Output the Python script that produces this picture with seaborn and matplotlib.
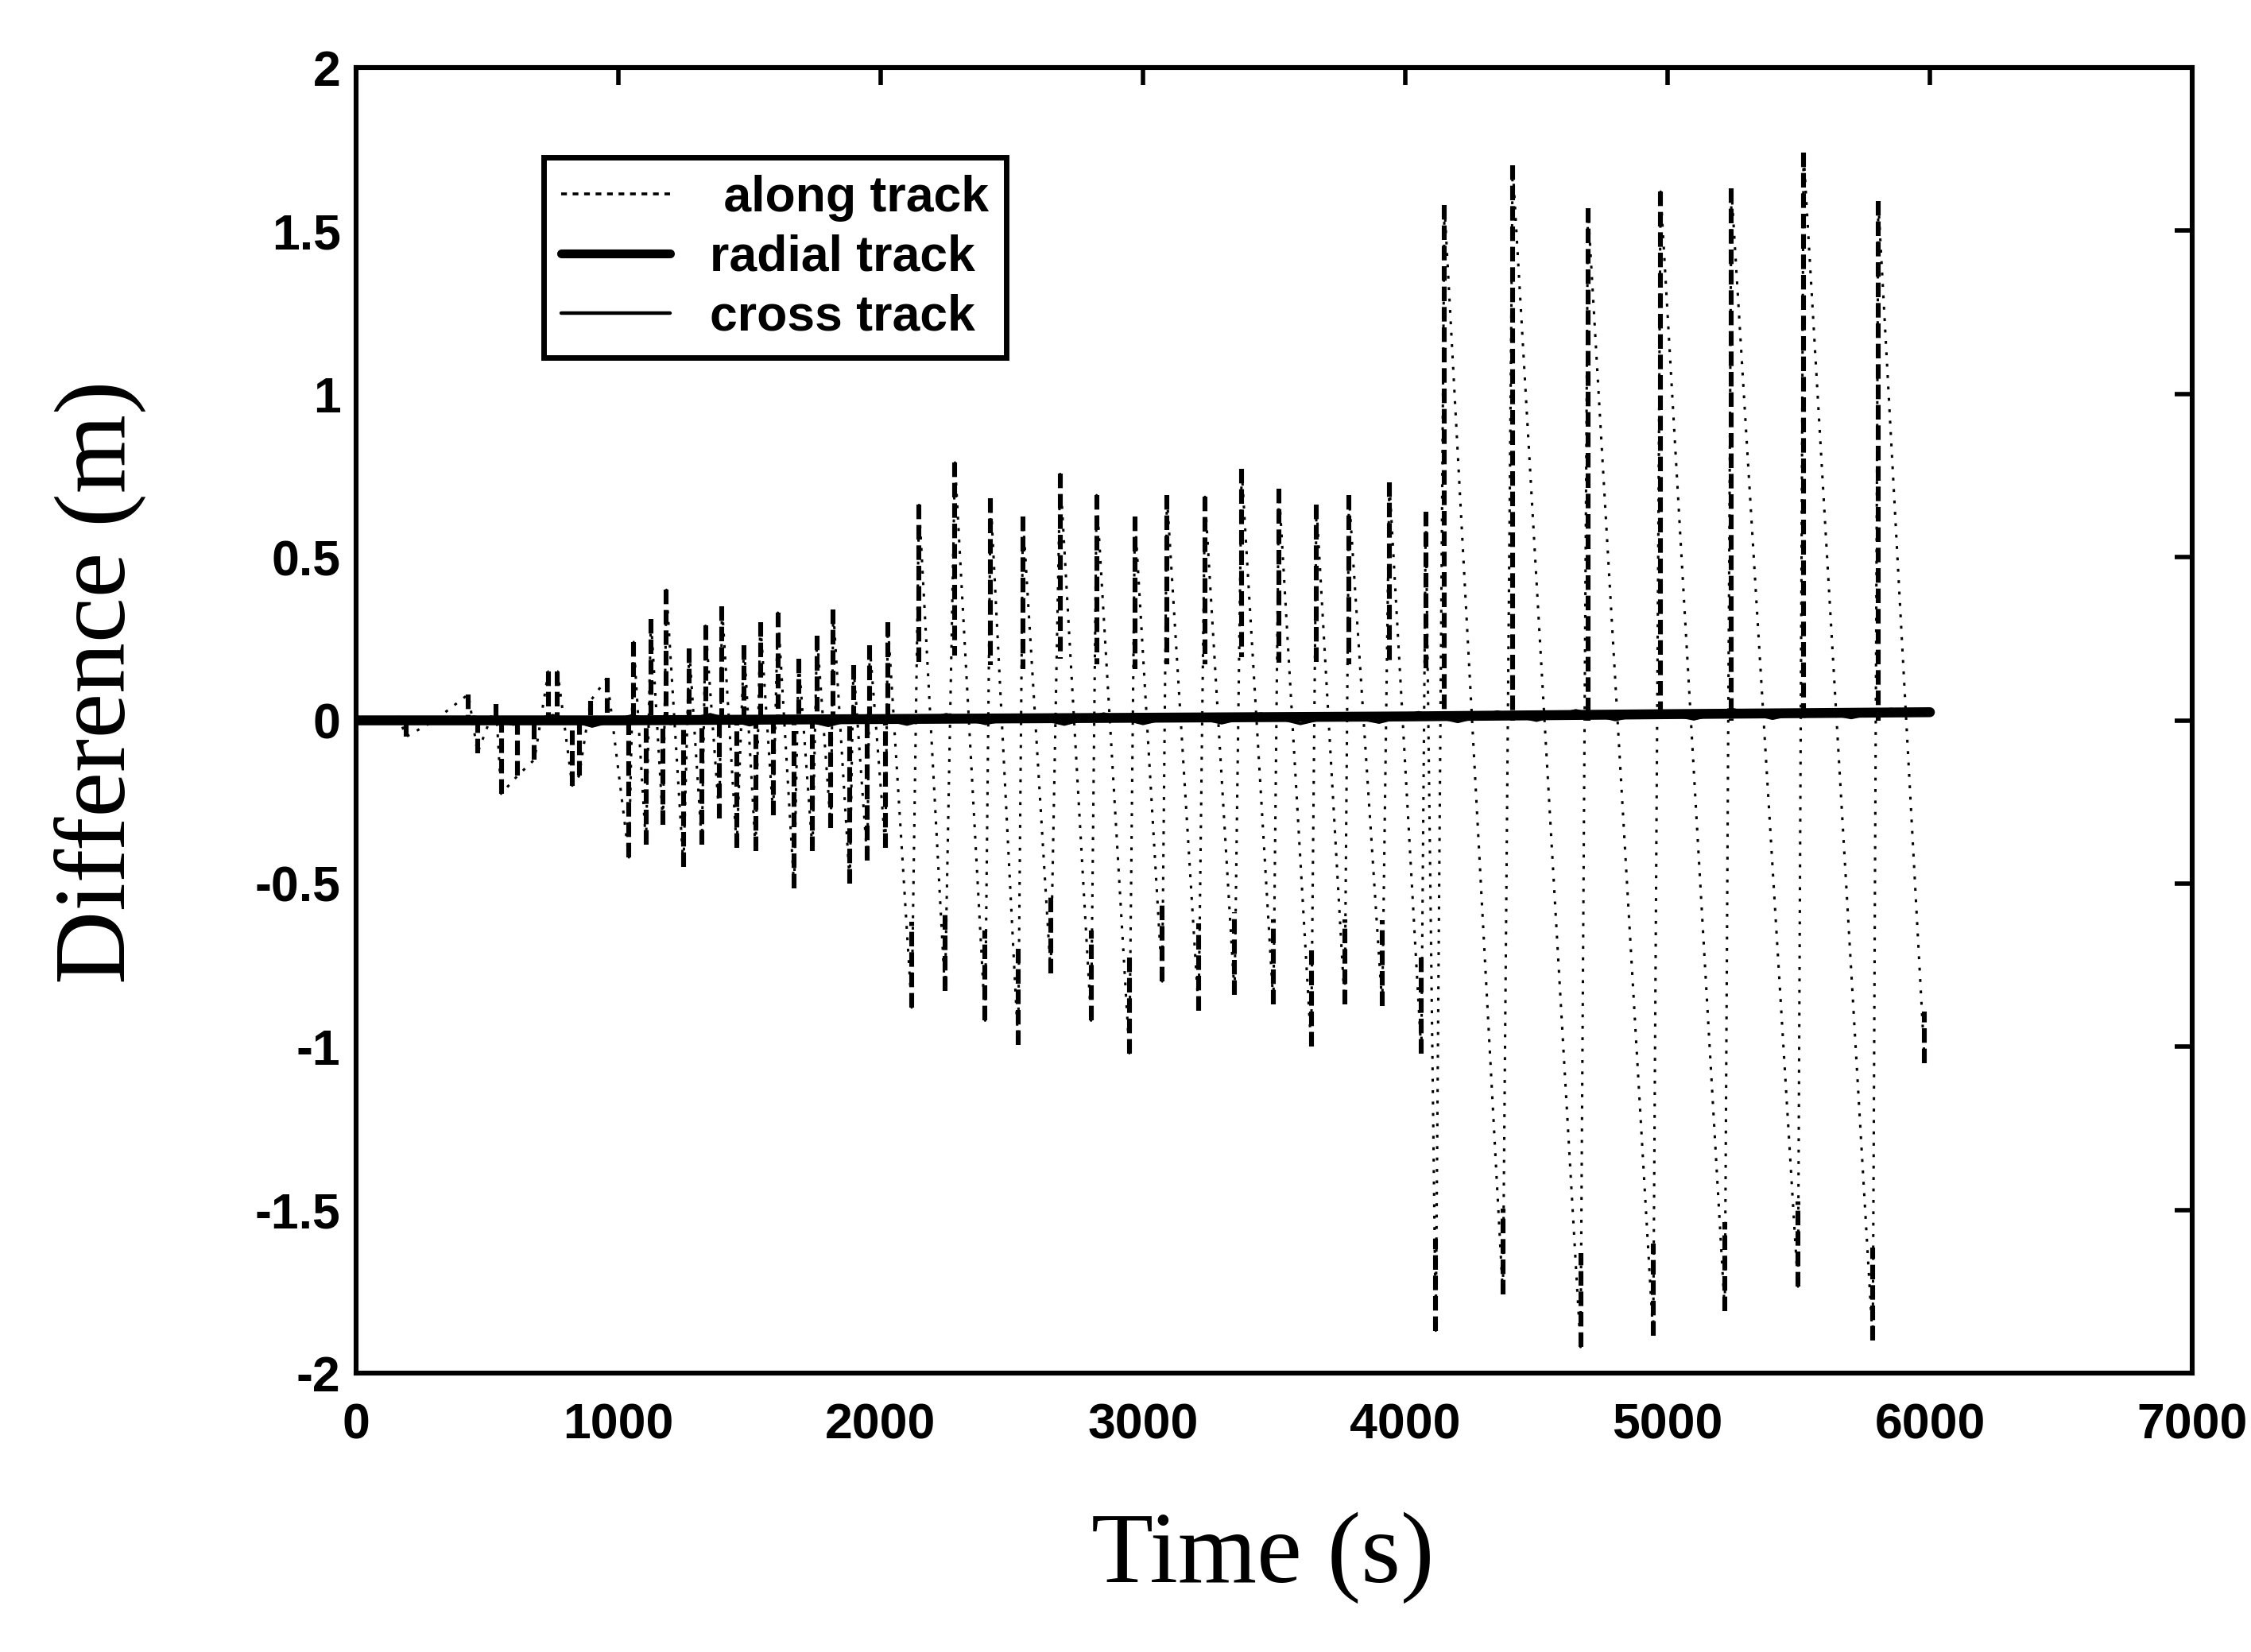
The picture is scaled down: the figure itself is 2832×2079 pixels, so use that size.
import numpy as np
import pandas as pd
import matplotlib
matplotlib.use("Agg")
import matplotlib.pyplot as plt
import seaborn as sns
from matplotlib.lines import Line2D

# Along-track difference: successive turning points of the signal (s, m)
along_t = [0, 120, 157, 191, 300, 428, 463, 533, 553, 615, 680, 733, 768, 824, 850,
           894, 957, 1040, 1058, 1105, 1124, 1170, 1183, 1248, 1270, 1318, 1332, 1385,
           1395, 1451, 1479, 1523, 1541, 1590, 1608, 1670, 1687, 1740, 1757, 1810, 1819,
           1882, 1896, 1949, 1958, 2018, 2027, 2118, 2146, 2245, 2283, 2398, 2419, 2524,
           2542, 2648, 2684, 2802, 2823, 2948, 2969, 3073, 3091, 3212, 3236, 3349, 3376,
           3497, 3518, 3641, 3661, 3769, 3785, 3912, 3939, 4061, 4078, 4116, 4149, 4372,
           4409, 4668, 4696, 4945, 4973, 5218, 5243, 5497, 5518, 5782, 5803, 5980]
along_v = [0.0, 0.0, 0.02, -0.05, 0.0, 0.08, -0.10, 0.05, -0.225, -0.17, -0.12, 0.15,
           0.15, -0.20, -0.17, 0.06, 0.13, -0.42, 0.24, -0.38, 0.31, -0.32, 0.40, -0.45,
           0.22, -0.38, 0.29, -0.30, 0.35, -0.39, 0.23, -0.40, 0.30, -0.29, 0.33, -0.515,
           0.19, -0.40, 0.26, -0.33, 0.34, -0.50, 0.17, -0.43, 0.23, -0.39, 0.30, -0.88,
           0.66, -0.83, 0.79, -0.92, 0.68, -0.995, 0.625, -0.775, 0.755, -0.92, 0.69,
           -1.02, 0.625, -0.80, 0.69, -0.89, 0.685, -0.84, 0.77, -0.87, 0.71, -1.0, 0.66,
           -0.87, 0.69, -0.875, 0.73, -1.02, 0.64, -1.87, 1.58, -1.76, 1.70, -1.92, 1.57,
           -1.885, 1.62, -1.81, 1.63, -1.735, 1.74, -1.90, 1.59, -1.05]

# Radial difference (s, m)
radial_t = [0, 1000, 2000, 3000, 4000, 5000, 6000]
radial_v = [0.0, 0.0, 0.004, 0.008, 0.012, 0.019, 0.025]

# Cross-track difference (s, m)
cross_t = [0, 150, 300, 450, 600, 750, 900, 1050, 1200, 1350, 1500, 1650, 1800, 1950,
           2100, 2250, 2400, 2550, 2700, 2850, 3000, 3150, 3300, 3450, 3600, 3750, 3900,
           4050, 4200, 4350, 4500, 4650, 4800, 4950, 5100, 5250, 5400, 5550, 5700, 5850,
           6000]
cross_v = [0.0, 0.005, -0.008, 0.010, -0.012, 0.015, -0.018, 0.014, -0.010, 0.018,
           -0.014, 0.012, -0.016, 0.015, -0.012, 0.018, -0.010, 0.016, -0.012, 0.020,
           -0.010, 0.018, -0.008, 0.020, -0.010, 0.018, -0.006, 0.024, -0.004, 0.026,
           0.000, 0.030, 0.002, 0.028, 0.004, 0.033, 0.006, 0.031, 0.008, 0.034,
           0.022]

x_ticks = [0, 1000, 2000, 3000, 4000, 5000, 6000, 7000]
y_ticks = [-2, -1.5, -1, -0.5, 0, 0.5, 1, 1.5, 2]
y_tick_labels = ["-2", "-1.5", "-1", "-0.5", "0", "0.5", "1", "1.5", "2"]
legend_labels = [" along track", "radial track", "cross track"]

sns.set_theme(style="white")
plt.rcParams["font.family"] = ["Liberation Sans", "DejaVu Sans"]
plt.rcParams["axes.unicode_minus"] = False
plt.rcParams["text.color"] = "black"

fig = plt.figure(figsize=(14.16, 10.395), dpi=200)
ax = fig.add_axes([0.1582, 0.1688, 0.8157, 0.7903])

# along track: sparse dotted trace through the turning points
sns.lineplot(x=along_t, y=along_v, estimator=None, sort=False, color="black",
             lw=1.1, ax=ax)
ax.lines[-1].set_linestyle((0, (1.2, 3.5)))

# dense stretches of the along-track trace near each extreme
rows = []
for i, (t, v) in enumerate(zip(along_t, along_v)):
    if abs(v) < 0.04:
        continue
    if v > 0:
        f = 0.0 if (t < 2100 or t > 4100) else 0.25
    else:
        f = 0.0 if t < 2100 else (0.7 if t < 4100 else 0.85)
    rows.append((i, t, v))
    rows.append((i, t, v * f))
dense = pd.DataFrame(rows, columns=["seg", "t", "v"])
n_before = len(ax.lines)
sns.lineplot(data=dense, x="t", y="v", units="seg", estimator=None, sort=False,
             color="black", lw=2.2, ax=ax)
for ln in ax.lines[n_before:]:
    ln.set_linestyle((0, (3, 1.2)))

# cross track: thin solid line
sns.lineplot(x=cross_t, y=cross_v, estimator=None, sort=False, color="black",
             lw=1.4, ax=ax)
# radial track: thick solid line
sns.lineplot(x=radial_t, y=radial_v, estimator=None, sort=False, color="black",
             lw=4.5, ax=ax)

ax.set_xlabel("")
ax.set_ylabel("")
ax.set_xlim(0, 7000)
ax.set_ylim(-2, 2)
ax.set_xticks(x_ticks)
ax.set_xticklabels([str(v) for v in x_ticks])
ax.set_yticks(y_ticks)
ax.set_yticklabels(y_tick_labels)
ax.tick_params(axis="both", which="both", direction="in", length=8, width=2,
               top=True, right=True, colors="black", labelcolor="black",
               labelsize=22.5)
ax.tick_params(axis="x", pad=13)
ax.tick_params(axis="y", pad=7)
for lab in ax.get_xticklabels() + ax.get_yticklabels():
    lab.set_fontweight("bold")
    lab.set_color("black")
for sp in ax.spines.values():
    sp.set_visible(True)
    sp.set_color("black")
    sp.set_linewidth(2.2)
ax.grid(False)

handles = [
    Line2D([], [], color="black", lw=1.3, linestyle=(0, (2, 2))),
    Line2D([], [], color="black", lw=4.0),
    Line2D([], [], color="black", lw=1.6),
]
leg = ax.legend(handles, legend_labels, loc="upper left",
                bbox_to_anchor=(0.102, 0.931), frameon=True, fancybox=False,
                handlelength=2.2, handletextpad=0.8, labelspacing=0.25,
                borderpad=0.35, borderaxespad=0,
                prop={"family": "Liberation Sans", "weight": "bold", "size": 22.5})
for txt in leg.get_texts():
    txt.set_color("black")
leg.get_frame().set_edgecolor("black")
leg.get_frame().set_linewidth(2.5)
leg.get_frame().set_facecolor("white")
leg.get_frame().set_alpha(1)

fig.text(0.0445, 0.587, "Difference (m)", rotation=90, ha="center", va="center",
         fontsize=46, color="black", family=["Liberation Serif", "DejaVu Serif"])
fig.text(0.561, 0.0572, "Time (s)", ha="center", va="center",
         fontsize=46, color="black", family=["Liberation Serif", "DejaVu Serif"])

fig.savefig("out.png", dpi=200, facecolor="white")
